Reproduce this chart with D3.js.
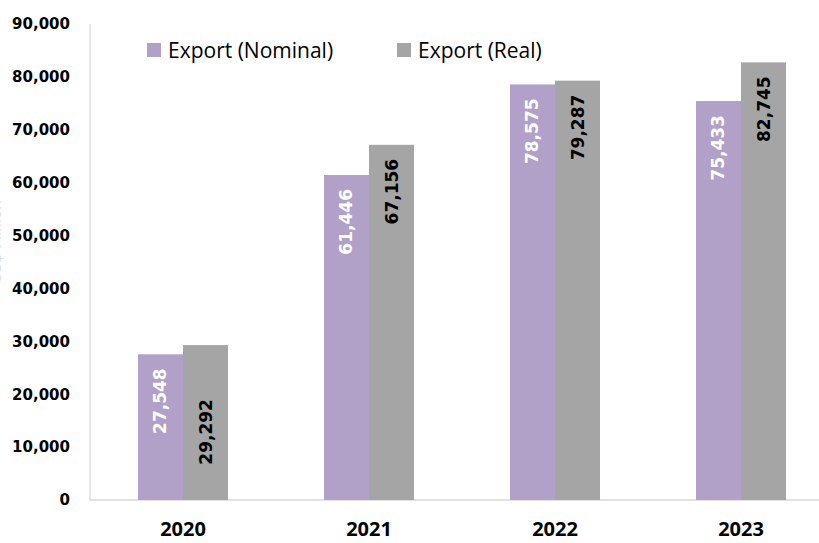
<!DOCTYPE html>
<html>
<head>
<meta charset="utf-8">
<script src="https://cdn.jsdelivr.net/npm/d3@7"></script>
<style>
  html, body { margin: 0; padding: 0; background: #fff; }
  svg { display: block; }
</style>
</head>
<body>
<svg id="chart" width="819" height="543"></svg>
<script>
const years = ['2020', '2021', '2022', '2023'];
const seriesNames = ['Export (Nominal)', 'Export (Real)'];
const nominal = [27548, 61446, 78575, 75433];
const real = [29292, 67156, 79287, 82745];
const yTicks = [0, 10000, 20000, 30000, 40000, 50000, 60000, 70000, 80000, 90000];

const colors = ['#b1a0c7', '#a5a5a5'];
const labelColors = ['#ffffff', '#000000'];
const width = 819;
const plotLeft = 90;
const plotRight = 834; // plot runs past the right edge, as in the source
const plotTop = 24;
const plotBottom = 500;
const labelFont = 'DejaVu Sans, Verdana, sans-serif';

const svg = d3.select('#chart');

const y = d3.scaleLinear().domain([0, 90000]).range([plotBottom, plotTop]);
const x0 = d3.scaleBand().domain(years).range([plotLeft, plotRight]).paddingInner(0.516).paddingOuter(0.258);
const x1 = d3.scaleBand().domain(seriesNames).range([0, x0.bandwidth()]);

const rows = years.map((year, i) => ({ year, values: [nominal[i], real[i]] }));

// faint axis title, almost entirely cropped off the left edge in the source
svg.append('text')
  .attr('transform', `translate(1,${(plotTop + plotBottom) / 2 - 20}) rotate(-90)`)
  .attr('text-anchor', 'middle')
  .attr('font-family', labelFont)
  .attr('font-size', 15)
  .attr('fill', '#e0e0e0')
  .text('US$ Million');

// axes lines
svg.append('line')
  .attr('x1', plotLeft).attr('x2', plotLeft)
  .attr('y1', y(90000)).attr('y2', y(0))
  .attr('stroke', '#d9d9d9').attr('stroke-width', 1.3);
svg.append('line')
  .attr('x1', plotLeft).attr('x2', width)
  .attr('y1', y(0)).attr('y2', y(0))
  .attr('stroke', '#d9d9d9').attr('stroke-width', 1.3);

const yAxis = svg.append('g')
  .attr('transform', `translate(${plotLeft},0)`)
  .call(d3.axisLeft(y).tickValues(yTicks).tickFormat(d3.format(',')).tickSize(0).tickPadding(20));
yAxis.select('.domain').remove();
yAxis.selectAll('text')
  .attr('font-family', labelFont)
  .attr('font-weight', 'bold')
  .attr('font-size', 15)
  .attr('fill', '#000');

const xAxis = svg.append('g')
  .attr('transform', `translate(0,${plotBottom})`)
  .call(d3.axisBottom(x0).tickSize(0).tickPadding(22));
xAxis.select('.domain').remove();
xAxis.selectAll('text')
  .attr('font-family', 'Noto Sans, sans-serif')
  .attr('font-weight', 'bold')
  .attr('font-size', 20)
  .attr('fill', '#000');

// bars
const groups = svg.append('g')
  .selectAll('g')
  .data(rows)
  .join('g')
  .attr('transform', (d) => `translate(${x0(d.year)},0)`);

groups.selectAll('rect')
  .data((d) => d.values.map((v, i) => ({ name: seriesNames[i], value: v, idx: i })))
  .join('rect')
  .attr('x', (d) => x1(d.name))
  .attr('width', x1.bandwidth())
  .attr('y', (d) => y(d.value))
  .attr('height', (d) => y(0) - y(d.value))
  .attr('fill', (d) => colors[d.idx]);

// rotated value labels, inside end
const labelNudge = [[0, 40], [0, 0], [0, 0], [0, 0]]; // 2020 real label sits lower in the source
groups.each(function (row, r) {
  d3.select(this).selectAll('text.val')
    .data(row.values.map((v, i) => ({ name: seriesNames[i], value: v, idx: i })))
    .join('text')
    .attr('class', 'val')
    .attr('transform', (d) => {
      const cx = x1(d.name) + x1.bandwidth() / 2 + 6;
      const cy = y(d.value) + 14 + labelNudge[r][d.idx];
      return `translate(${cx},${cy}) rotate(-90)`;
    })
    .attr('text-anchor', 'end')
    .attr('font-family', labelFont)
    .attr('font-weight', 'bold')
    .attr('font-size', 17)
    .attr('fill', (d) => labelColors[d.idx])
    .text((d) => d3.format(',')(d.value));
});

// legend
const legendX = [147, 397];
const legend = svg.append('g')
  .selectAll('g')
  .data(seriesNames)
  .join('g')
  .attr('transform', (d, i) => `translate(${legendX[i]},43)`);
legend.append('rect')
  .attr('width', 14).attr('height', 14)
  .attr('fill', (d, i) => colors[i]);
legend.append('text')
  .attr('x', 21).attr('y', 15)
  .attr('font-family', 'Open Sans, sans-serif')
  .attr('font-size', 21)
  .attr('fill', '#000')
  .text((d) => d);
</script>
</body>
</html>
